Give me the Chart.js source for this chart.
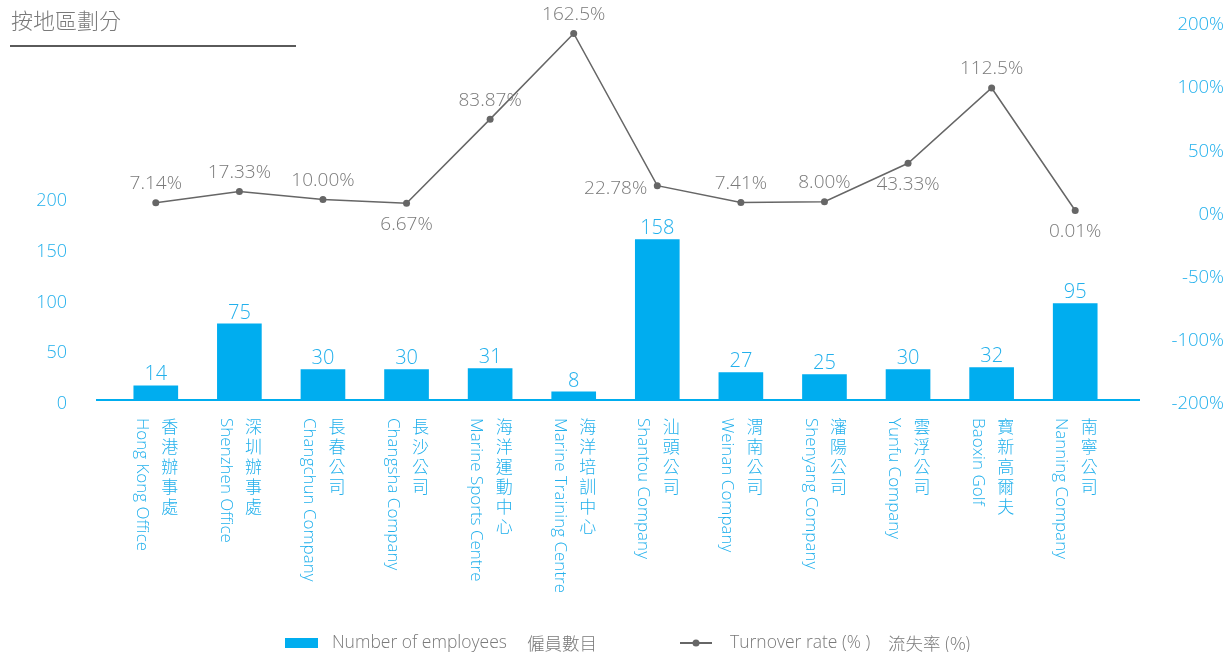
<!DOCTYPE html>
<html>
<head>
<meta charset="utf-8">
<script src="https://cdn.jsdelivr.net/npm/chart.js@4.4.0/dist/chart.umd.min.js"></script>
<style>
  html, body { margin: 0; padding: 0; background: #fff; }
  #wrap { width: 1227px; height: 652px; }
</style>
</head>
<body>
<div id="wrap"><canvas id="chart" width="1227" height="652"></canvas></div>
<script>
    // Data
    const CATEGORIES_EN = ['Hong Kong Office', 'Shenzhen Office', 'Changchun Company', 'Changsha Company',
        'Marine Sports Centre', 'Marine Training Centre', 'Shantou Company', 'Weinan Company',
        'Shenyang Company', 'Yunfu Company', 'Baoxin Golf', 'Nanning Company'];
    const CATEGORIES_ZH = ['香港辦事處', '深圳辦事處', '長春公司', '長沙公司', '海洋運動中心', '海洋培訓中心',
        '汕頭公司', '渭南公司', '瀋陽公司', '雲浮公司', '寶新高爾夫', '南寧公司'];
    const EMPLOYEES = [14, 75, 30, 30, 31, 8, 158, 27, 25, 30, 32, 95];
    const TURNOVER = [7.14, 17.33, 10.00, 6.67, 83.87, 162.5, 22.78, 7.41, 8.00, 43.33, 112.5, 0.01];
    const TURNOVER_TEXT = ['7.14%', '17.33%', '10.00%', '6.67%', '83.87%', '162.5%', '22.78%', '7.41%',
        '8.00%', '43.33%', '112.5%', '0.01%'];
    const RATE_TICK_LABELS = ['-200%', '-100%', '-50%', '0%', '50%', '100%', '200%'];
    const EMP_TICK_MAX = 200;

    const TITLE = '按地區劃分';
    const LEGEND_BAR = ['Number of employees', '僱員數目'];
    const LEGEND_LINE = ['Turnover rate (% )', '流失率 (%)'];

    const CYAN = '#00adef';
    const CYAN_TEXT = '#22b0ec';
    const GREY = '#666666';
    const GREY_TEXT = '#7a7a7a';
    const FONT = '"Open Sans", "Noto Sans CJK TC", sans-serif';
    const CJK = '"Noto Sans CJK TC", sans-serif';

    // where each turnover label sits relative to its point
    const RATE_LABEL_SIDE = ['top', 'top', 'top', 'bottom', 'top', 'top', 'left', 'top', 'top', 'bottom', 'top', 'bottom'];

    const decorations = {
        id: 'decorations',
        afterDatasetsDraw(chart) {
            const ctx = chart.ctx;
            const area = chart.chartArea;
            const xs = chart.scales.x;
            ctx.save();

            // baseline
            ctx.strokeStyle = CYAN;
            ctx.lineWidth = 2;
            ctx.beginPath();
            ctx.moveTo(area.left - 18, area.bottom);
            ctx.lineTo(area.right + 23, area.bottom);
            ctx.stroke();

            // bar values
            ctx.fillStyle = CYAN_TEXT;
            ctx.font = '300 20px ' + FONT;
            ctx.textAlign = 'center';
            ctx.textBaseline = 'bottom';
            chart.getDatasetMeta(0).data.forEach((bar, i) => {
                ctx.fillText(String(EMPLOYEES[i]), bar.x, bar.y - 1);
            });

            // turnover labels
            ctx.fillStyle = GREY_TEXT;
            ctx.font = '300 19px ' + FONT;
            ctx.textBaseline = 'middle';
            chart.getDatasetMeta(1).data.forEach((pt, i) => {
                const side = RATE_LABEL_SIDE[i];
                if (side === 'top') {
                    ctx.textAlign = 'center';
                    ctx.fillText(TURNOVER_TEXT[i], pt.x, pt.y - 19);
                } else if (side === 'bottom') {
                    ctx.textAlign = 'center';
                    ctx.fillText(TURNOVER_TEXT[i], pt.x, pt.y + 21);
                } else {
                    ctx.textAlign = 'right';
                    ctx.fillText(TURNOVER_TEXT[i], pt.x - 10, pt.y + 3);
                }
            });

            // category labels: English rotated, Chinese stacked upright
            ctx.fillStyle = CYAN_TEXT;
            CATEGORIES_EN.forEach((en, i) => {
                const x = xs.getPixelForValue(i);
                ctx.save();
                ctx.translate(x - 14, area.bottom + 18);
                ctx.rotate(Math.PI / 2);
                ctx.font = '300 17px ' + FONT;
                ctx.textAlign = 'left';
                ctx.textBaseline = 'middle';
                ctx.fillText(en, 0, 0);
                ctx.restore();

                ctx.font = '300 17px ' + CJK;
                ctx.textAlign = 'center';
                ctx.textBaseline = 'middle';
                Array.from(CATEGORIES_ZH[i]).forEach((ch, j) => {
                    ctx.fillText(ch, x + 14, area.bottom + 27 + j * 20);
                });
            });

            // title
            ctx.fillStyle = GREY_TEXT;
            ctx.font = '300 22px ' + CJK;
            ctx.textAlign = 'left';
            ctx.textBaseline = 'middle';
            ctx.fillText(TITLE, 11, 21);
            ctx.strokeStyle = '#5a5a5a';
            ctx.lineWidth = 2;
            ctx.beginPath();
            ctx.moveTo(10, 46);
            ctx.lineTo(296, 46);
            ctx.stroke();

            // legend
            const ly = 643;
            ctx.fillStyle = CYAN;
            ctx.fillRect(285, ly - 5, 33, 10);
            ctx.fillStyle = GREY_TEXT;
            ctx.font = '300 17.5px ' + FONT;
            ctx.fillText(LEGEND_BAR[0], 332, ly);
            ctx.font = '300 17.5px ' + CJK;
            ctx.fillText(LEGEND_BAR[1], 527, ly);

            ctx.strokeStyle = GREY;
            ctx.lineWidth = 2;
            ctx.beginPath();
            ctx.moveTo(680, ly);
            ctx.lineTo(712, ly);
            ctx.stroke();
            ctx.fillStyle = GREY;
            ctx.beginPath();
            ctx.arc(696, ly, 3.5, 0, Math.PI * 2);
            ctx.fill();
            ctx.fillStyle = GREY_TEXT;
            ctx.font = '300 17.5px ' + FONT;
            ctx.fillText(LEGEND_LINE[0], 730, ly);
            ctx.font = '300 17.5px ' + CJK;
            ctx.fillText(LEGEND_LINE[1], 888, ly);

            ctx.restore();
        }
    };

    new Chart(document.getElementById('chart'), {
        type: 'bar',
        data: {
            labels: CATEGORIES_EN,
            datasets: [{
                type: 'bar',
                label: LEGEND_BAR[0],
                data: EMPLOYEES,
                backgroundColor: CYAN,
                borderWidth: 0,
                barThickness: 44,
                yAxisID: 'y',
                order: 2
            }, {
                type: 'line',
                label: LEGEND_LINE[0],
                data: TURNOVER,
                borderColor: GREY,
                backgroundColor: GREY,
                borderWidth: 1.5,
                pointRadius: 3.5,
                pointBackgroundColor: GREY,
                pointBorderWidth: 0,
                tension: 0,
                clip: false,
                yAxisID: 'y2',
                order: 1
            }]
        },
        options: {
            responsive: false,
            animation: false,
            events: [],
            layout: { padding: { top: 9, right: 3, left: 0, bottom: 0 } },
            plugins: {
                legend: { display: false },
                tooltip: { enabled: false }
            },
            scales: {
                x: {
                    grid: { display: false, drawTicks: false },
                    border: { display: false },
                    ticks: { display: false },
                    afterFit: (s) => { s.height = 252; }
                },
                y: {
                    position: 'left',
                    min: 0,
                    max: 385,
                    grid: { display: false, drawTicks: false },
                    border: { display: false },
                    ticks: {
                        stepSize: 50,
                        includeBounds: false,
                        padding: 47,
                        labelOffset: 4,
                        color: CYAN_TEXT,
                        font: { family: FONT, size: 18, weight: '300' }
                    },
                    afterBuildTicks: (s) => { s.ticks = s.ticks.filter(t => t.value <= EMP_TICK_MAX); },
                    afterFit: (s) => { s.width = 114; s.paddingTop = 0; s.paddingBottom = 0; }
                },
                y2: {
                    position: 'right',
                    min: -174,
                    max: 185,
                    grid: { display: false, drawTicks: false },
                    border: { display: false },
                    ticks: {
                        stepSize: 58,
                        includeBounds: false,
                        crossAlign: 'far',
                        labelOffset: 4,
                        color: CYAN_TEXT,
                        font: { family: FONT, size: 18.5, weight: '300' },
                        callback: (v, i) => RATE_TICK_LABELS[i]
                    },
                    afterBuildTicks: (s) => { s.ticks = s.ticks.filter(t => t.value <= 174); },
                    afterFit: (s) => { s.width = 107; s.paddingTop = 0; s.paddingBottom = 0; }
                }
            }
        },
        plugins: [decorations]
    });
</script>
</body>
</html>
